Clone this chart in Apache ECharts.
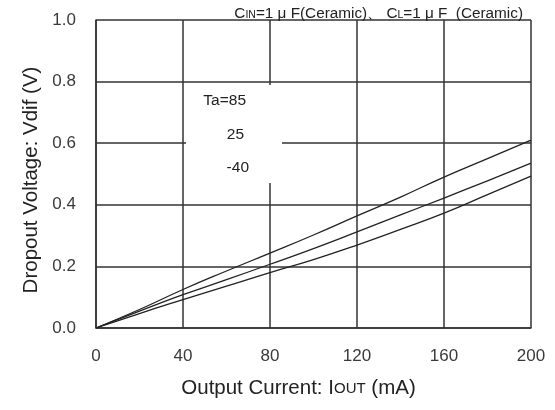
<!DOCTYPE html>
<html>
<head>
<meta charset="utf-8">
<script src="https://cdn.jsdelivr.net/npm/echarts@6/dist/echarts.min.js"></script>
<style>
  html, body { margin: 0; padding: 0; background: #fff; }
  #chart { width: 555px; height: 410px; }
</style>
</head>
<body>
<div id="chart"></div>
<script>
// output current (mA)
const currents = [0, 20, 40, 60, 80, 100, 120, 140, 160, 180, 200]
// dropout voltage (V) per ambient temperature
const vdif85 = [0, 0.06, 0.125, 0.185, 0.243, 0.302, 0.364, 0.425, 0.49, 0.55, 0.61]
const vdif25 = [0, 0.055, 0.108, 0.157, 0.207, 0.258, 0.312, 0.367, 0.422, 0.478, 0.535]
const vdifM40 = [0, 0.047, 0.092, 0.136, 0.18, 0.222, 0.269, 0.32, 0.373, 0.433, 0.493]
const seriesNames = ['Ta=85', '25', '-40']

const pairs = (ys) => currents.map((x, i) => [x, ys[i]])

const gridColor = '#333'
const labelColor = '#3a3a3a'
const font = 'Liberation Sans, Arial, sans-serif'

const chart = echarts.init(document.getElementById('chart'))

const lineSeries = [vdif85, vdif25, vdifM40].map((ys, i) => ({
  name: seriesNames[i],
  type: 'line',
  data: pairs(ys),
  smooth: true,
  symbol: 'none',
  z: 3,
  lineStyle: { color: '#222', width: 1.3 },
}))

chart.setOption({
  animation: false,
  backgroundColor: '#fff',
  textStyle: { fontFamily: font },
  grid: { left: 96, right: 24, top: 20, bottom: 82 },
  title: {
    text: 'C{s|IN}=1 μ F(Ceramic)、 C{s|L}=1 μ F  (Ceramic)',
    right: 27,
    top: 1,
    textStyle: {
      fontFamily: font,
      fontSize: 15.3,
      fontWeight: 'normal',
      color: '#222',
      rich: { s: { fontSize: 10.5, fontFamily: font, color: '#222', verticalAlign: 'bottom' } },
    },
  },
  xAxis: {
    type: 'value',
    min: 0,
    max: 200,
    interval: 40,
    name: 'Output Current: I{s|OUT} (mA)',
    nameLocation: 'middle',
    nameGap: 50,
    nameTextStyle: {
      fontSize: 20.5,
      color: '#222',
      fontFamily: font,
      padding: [0, 30, 0, 0],
      rich: { s: { fontSize: 15, color: '#222', fontFamily: font } },
    },
    axisLine: { show: true, lineStyle: { color: gridColor, width: 1.5 } },
    axisTick: { show: false },
    axisLabel: { color: labelColor, fontSize: 17, margin: 20 },
    splitLine: { show: true, lineStyle: { color: gridColor, width: 1.5 } },
  },
  yAxis: {
    type: 'value',
    min: 0,
    max: 1.0,
    interval: 0.2,
    name: 'Dropout Voltage: Vdif (V)',
    nameLocation: 'middle',
    nameGap: 54,
    nameTextStyle: { fontSize: 20.5, color: '#222', fontFamily: font, padding: [0, 12, 0, 0] },
    axisLine: { show: true, lineStyle: { color: gridColor, width: 1.5 } },
    axisTick: { show: false },
    axisLabel: {
      color: labelColor,
      fontSize: 17,
      margin: 20,
      formatter: (v) => v.toFixed(1),
    },
    splitLine: { show: true, lineStyle: { color: gridColor, width: 1.5 } },
  },
  graphic: [
    {
      type: 'rect',
      shape: { x: 186, y: 85, width: 96, height: 98 },
      style: { fill: '#fff' },
      z: 2,
    },
    {
      type: 'text',
      x: 246, y: 101,
      style: { text: seriesNames[0], font: '15.5px ' + font, fill: '#222', align: 'right', verticalAlign: 'middle' },
      z: 4,
    },
    {
      type: 'text',
      x: 244, y: 135,
      style: { text: seriesNames[1], font: '15.5px ' + font, fill: '#222', align: 'right', verticalAlign: 'middle' },
      z: 4,
    },
    {
      type: 'text',
      x: 249, y: 168,
      style: { text: seriesNames[2], font: '15.5px ' + font, fill: '#222', align: 'right', verticalAlign: 'middle' },
      z: 4,
    },
  ],
  series: lineSeries,
})
</script>
</body>
</html>
